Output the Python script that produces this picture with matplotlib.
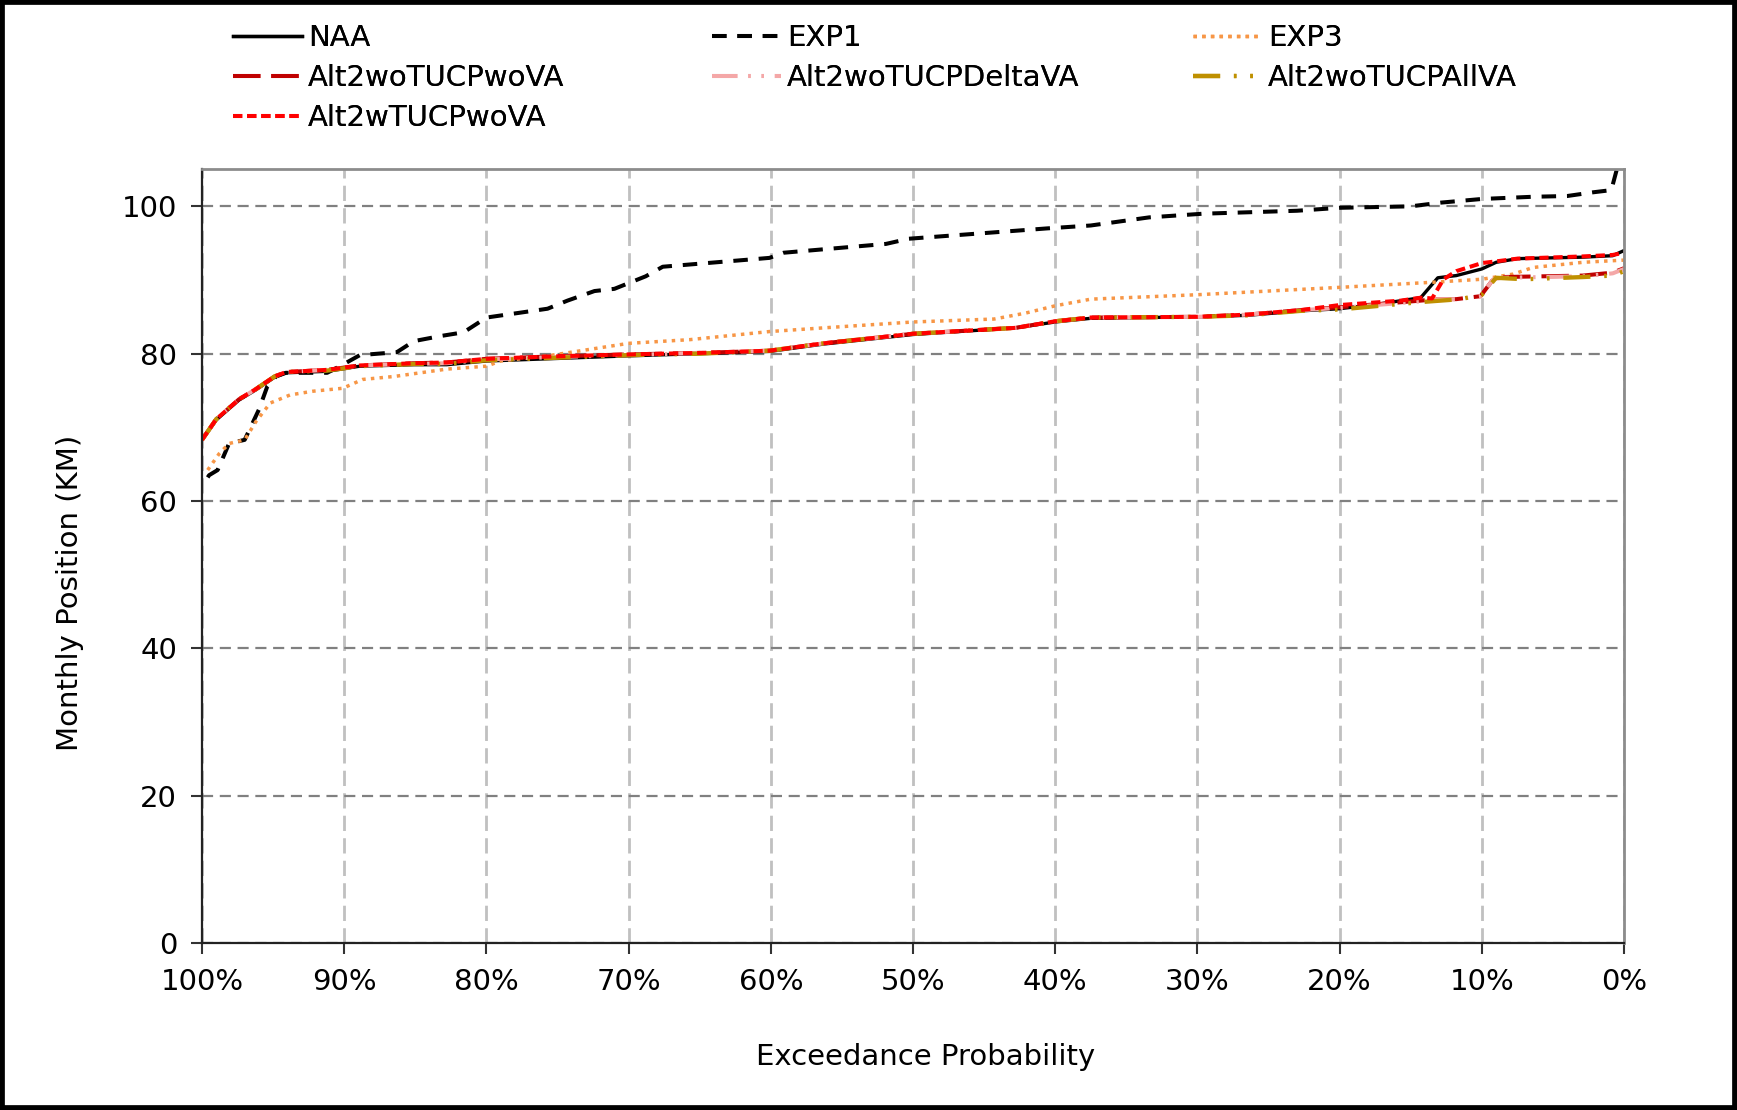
import numpy as np
import matplotlib
matplotlib.use("Agg")
import matplotlib.pyplot as plt
from matplotlib.patches import Rectangle

# exceedance probability (%) and monthly position (km)
naa_x = [100, 99.0, 97.4, 96.2, 94.9, 94.1, 91.2, 88.9, 85.1, 82.8, 80, 75.7, 70, 65, 60.1, 56.3, 50,
         42.8, 40, 37.5, 30, 26.5, 22.8, 20, 17, 14.3, 13.1, 11.8, 10, 9, 7.5, 2.9, 0.8, 0]
naa_y = [68.3, 71.0, 73.7, 75.1, 76.8, 77.4, 77.6, 78.3, 78.5, 78.5, 79.0, 79.3, 79.7, 80.0, 80.3, 81.3, 82.6,
         83.5, 84.3, 84.8, 85.0, 85.2, 85.8, 86.1, 86.8, 87.6, 90.3, 90.6, 91.5, 92.4, 92.9, 93.1, 93.3, 94.0]

exp1_x = [99.6, 99.5, 98.9, 98.1, 97.0, 96.0, 95.4, 94.8, 94.1, 91.2, 90.1, 88.9, 86.3, 85.1, 83.2, 81.6, 80.0,
          75.7, 74.3, 72.4, 71.0, 68.8, 67.6, 60.1, 59.1, 51.9, 50.3, 40.6, 37.5, 33.4, 29.6, 23.0, 20, 15,
          12.9, 10, 6.4, 4, 2.2, 0.9, 0.5, 0]
exp1_y = [63.2, 63.5, 64.2, 67.8, 68.3, 72.4, 75.6, 76.9, 77.4, 77.4, 78.5, 79.8, 80.2, 81.7, 82.4, 82.9, 84.9,
          86.1, 87.2, 88.5, 88.8, 90.5, 91.8, 93.0, 93.7, 94.9, 95.6, 97.0, 97.4, 98.5, 99.0, 99.4, 99.8, 100.0,
          100.5, 101.0, 101.3, 101.4, 101.9, 102.2, 105.1, 110.0]

exp3_x = [99.6, 98.8, 98.1, 97.0, 96.2, 95.2, 93.8, 92.2, 90.1, 88.7, 86.5, 82.8, 80, 79.0, 75.7, 70, 65.7,
          60.1, 56.3, 50, 44.3, 42.1, 40, 37.5, 30, 23, 20, 13.4, 10, 7.8, 6.4, 2.9, 0]
exp3_y = [64.2, 66.4, 67.8, 68.3, 70.8, 73.3, 74.4, 74.9, 75.3, 76.5, 76.9, 77.9, 78.3, 79.0, 79.7, 81.4, 81.9,
          83.0, 83.5, 84.3, 84.7, 85.5, 86.5, 87.4, 88.0, 88.7, 89.0, 89.7, 90.1, 90.8, 91.7, 92.4, 92.7]

wo_x = [100, 99.0, 97.4, 96.2, 94.9, 94.1, 91.2, 88.9, 85.1, 82.8, 80, 75.7, 70, 65, 60.1, 56.3, 50,
        42.8, 40, 37.5, 30, 26.5, 22.8, 20, 14.3, 13.1, 11.8, 10.1, 9.2, 8.6, 2.9, 0.8, 0]
wo_y = [68.3, 71.1, 73.8, 75.2, 76.9, 77.5, 77.8, 78.4, 78.7, 78.8, 79.3, 79.6, 79.9, 80.1, 80.4, 81.4, 82.7,
        83.5, 84.4, 84.9, 85.0, 85.3, 85.9, 86.3, 87.2, 87.4, 87.4, 87.8, 90.1, 90.4, 90.6, 91.0, 91.6]

delta_x = [100, 99.0, 97.4, 96.2, 94.9, 94.1, 91.2, 88.9, 85.1, 82.8, 80, 75.7, 70, 65, 60.1, 56.3, 50,
           42.8, 40, 37.5, 30, 26.5, 22.8, 20, 14.3, 13.1, 11.8, 10.1, 9.2, 8.6, 2.9, 0.8, 0]
delta_y = [68.3, 71.1, 73.8, 75.2, 76.9, 77.5, 77.8, 78.4, 78.6, 78.7, 79.2, 79.5, 79.8, 80.1, 80.4, 81.4, 82.7,
           83.5, 84.4, 84.9, 85.0, 85.3, 85.9, 86.2, 87.1, 87.4, 87.4, 87.8, 90.1, 90.3, 90.5, 90.9, 91.5]

allva_x = [100, 99.0, 97.4, 96.2, 94.9, 94.1, 91.2, 88.9, 85.1, 82.8, 80, 75.7, 70, 65, 60.1, 56.3, 50,
           42.8, 40, 37.5, 30, 26.5, 22.8, 20, 14.3, 11.5, 10, 9, 7, 2.9, 0.8, 0]
allva_y = [68.3, 71.1, 73.8, 75.2, 76.9, 77.5, 77.7, 78.3, 78.6, 78.6, 79.1, 79.4, 79.8, 80.0, 80.4, 81.4, 82.7,
           83.5, 84.4, 84.9, 85.0, 85.2, 85.8, 86.0, 87.0, 87.4, 88.0, 90.3, 90.1, 90.4, 90.6, 91.2]

wt_x = [100, 99.0, 97.4, 96.2, 94.9, 94.1, 91.2, 88.9, 85.1, 82.8, 80, 75.7, 70, 65, 60.1, 56.3, 50,
        42.8, 40, 37.5, 30, 26.5, 22.8, 20, 15.7, 14.3, 13.5, 12.7, 11.8, 10, 8.7, 7.5, 2.9, 0.8, 0]
wt_y = [68.3, 71.1, 73.8, 75.2, 76.9, 77.5, 77.8, 78.4, 78.7, 78.8, 79.3, 79.6, 79.9, 80.1, 80.4, 81.4, 82.7,
        83.5, 84.4, 84.9, 85.0, 85.3, 85.9, 86.6, 87.2, 87.6, 87.5, 90.1, 91.2, 92.3, 92.6, 92.9, 93.2, 93.4, 93.7]

x_ticks = [100, 90, 80, 70, 60, 50, 40, 30, 20, 10, 0]
y_ticks = [0, 20, 40, 60, 80, 100]

FS = 21
plt.rcParams['font.family'] = ['DejaVu Sans']

fig = plt.figure(figsize=(17.37, 11.10), dpi=100)
ax = fig.add_axes([0.1163, 0.1505, 0.8187, 0.6968])

series = [
    (naa_x, naa_y, "NAA", dict(color="black", lw=2.4, linestyle="-")),
    (exp1_x, exp1_y, "EXP1", dict(color="black", lw=2.9, linestyle=(0, (3.6, 2.7)))),
    (exp3_x, exp3_y, "EXP3", dict(color="#F79646", lw=2.5, linestyle=(0, (1, 1.5)))),
    (wo_x, wo_y, "Alt2woTUCPwoVA", dict(color="#C00000", lw=2.9, linestyle=(0, (6.8, 2.7)))),
    (delta_x, delta_y, "Alt2woTUCPDeltaVA", dict(color="#F4A7A7", lw=2.9, linestyle=(0, (6.3, 2.7, 0.6, 2.7, 0.6, 2.7)))),
    (allva_x, allva_y, "Alt2woTUCPAllVA", dict(color="#BF9000", lw=3.1, linestyle=(0, (6.3, 3.2, 0.6, 3.2, 0.6, 3.2)))),
    (wt_x, wt_y, "Alt2wTUCPwoVA", dict(color="#FF0000", lw=2.9, linestyle=(0, (2.3, 1.2)))),
]

handles = {}
for xs, ys, name, st in series:
    ln, = ax.plot(xs, ys, label=name, **st)
    handles[name] = ln

ax.set_xlim(100, 0)
ax.set_ylim(0, 105)
ax.set_xticks(x_ticks)
ax.set_xticklabels([f"{v}%" for v in x_ticks])
ax.set_yticks(y_ticks)
ax.tick_params(axis="both", labelsize=FS, length=8, width=1.5, color="#333333")
ax.tick_params(axis="y", pad=10)
ax.tick_params(axis="x", pad=10)

ax.yaxis.grid(True, color="#808080", lw=1.6, linestyle=(0, (5, 3)))
ax.xaxis.grid(True, color="#C0C0C0", lw=2.0, linestyle=(0, (5.5, 2.6)))
ax.set_axisbelow(True)

for s in ["left", "bottom"]:
    ax.spines[s].set_color("#222222")
    ax.spines[s].set_linewidth(1.6)
for s in ["top", "right"]:
    ax.spines[s].set_color("#8C8C8C")
    ax.spines[s].set_linewidth(2.0)

fig.text(70 / 1737, 0.466, "Monthly Position (KM)", rotation=90, fontsize=FS,
         ha="center", va="center")
fig.text(0.533, 1 - 1057 / 1110, "Exceedance Probability", fontsize=FS,
         ha="center", va="center")

# legend, three columns placed separately
cols = [["NAA", "Alt2woTUCPwoVA", "Alt2wTUCPwoVA"],
        ["EXP1", "Alt2woTUCPDeltaVA"],
        ["EXP3", "Alt2woTUCPAllVA"]]
col_x = [233 / 1737, 712 / 1737, 1193 / 1737]
for names, cx in zip(cols, col_x):
    leg = fig.legend([handles[n] for n in names], names, loc="upper left",
                     bbox_to_anchor=(cx, 0.978), frameon=False, fontsize=FS,
                     handlelength=2.36, handletextpad=0.22, labelspacing=0.4,
                     borderpad=0, borderaxespad=0)
    fig.add_artist(leg)

fig.patches.append(Rectangle((0, 0), 1, 1, transform=fig.transFigure, fill=False,
                             edgecolor="black", lw=7, zorder=10))

fig.savefig("out.png", dpi=100)
